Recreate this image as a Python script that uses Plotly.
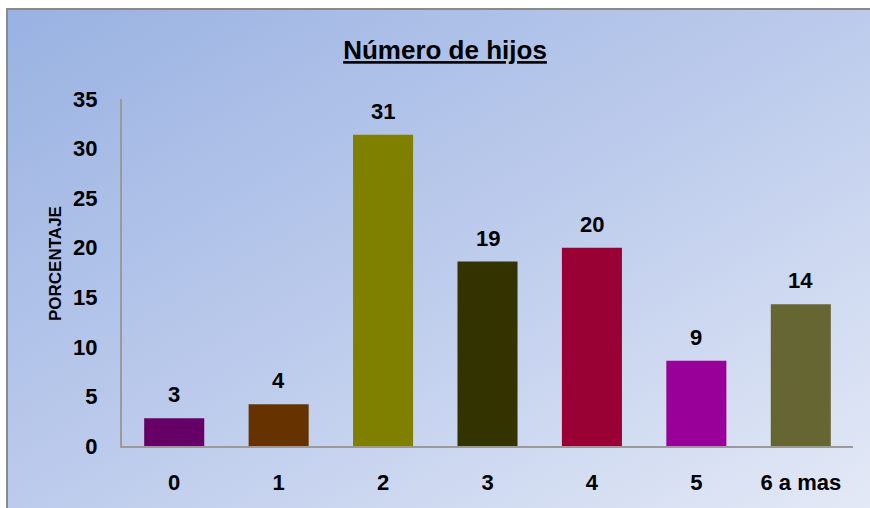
import base64
import plotly.graph_objects as go

categories = ["0", "1", "2", "3", "4", "5", "6 a mas"]
values = [2.8, 4.2, 31.4, 18.6, 20.0, 8.6, 14.3]
labels = ["3", "4", "31", "19", "20", "9", "14"]
colors = ["#660066", "#663300", "#808000", "#333300", "#990033", "#990099", "#666633"]

W, H = 870, 508
L, R, T, B = 122, 17, 99, 62
pw, ph = W - L - R, H - T - B

svg = f'''<svg xmlns="http://www.w3.org/2000/svg" width="{W}" height="{H}" viewBox="0 0 {W} {H}" preserveAspectRatio="none">
<defs><linearGradient id="g" x1="0" y1="0" x2="1" y2="1">
<stop offset="0" stop-color="#99b2e2"/><stop offset="0.5" stop-color="#bccbec"/><stop offset="1" stop-color="#e3e9f6"/>
</linearGradient></defs>
<rect x="0" y="0" width="{W}" height="{H}" fill="#ffffff"/>
<rect x="6" y="9" width="{W-6}" height="{H-9}" fill="url(#g)"/>
<line x1="6" y1="9" x2="{W}" y2="9" stroke="#8a8a8a" stroke-width="2"/>
<line x1="7" y1="9" x2="7" y2="{H}" stroke="#8a8a8a" stroke-width="2"/>
</svg>'''
src = "data:image/svg+xml;base64," + base64.b64encode(svg.encode()).decode()

FONT = "Liberation Sans Narrow, Arial Narrow, Liberation Sans, Arial, sans-serif"

fig = go.Figure()
fig.add_trace(go.Bar(x=categories, y=values, marker=dict(color=colors, line=dict(width=0)),
                     width=0.575, hoverinfo="skip"))

for c, v, t in zip(categories, values, labels):
    fig.add_annotation(x=c, y=v, text=f"<b>{t}</b>", showarrow=False, yanchor="bottom",
                       yshift=9, font=dict(family=FONT, size=22, color="#000000"))

fig.add_annotation(x=(55 - L) / pw, y=(H - B - 264) / ph, xref="paper", yref="paper",
                   text="<b>PORCENTAJE</b>", textangle=-90, showarrow=False,
                   xanchor="center", yanchor="middle",
                   font=dict(family=FONT, size=17, color="#000000"))

fig.update_layout(
    width=W, height=H,
    margin=dict(l=L, r=R, t=T, b=B, pad=0),
    paper_bgcolor="#ffffff", plot_bgcolor="#ffffff",
    showlegend=False,
    title=dict(text="<b><u>Número de hijos</u></b>", x=445 / W, xref="container", xanchor="center",
               y=1 - 50 / H, yref="container", yanchor="middle",
               font=dict(family=FONT, size=26, color="#000000")),
    images=[dict(source=src, xref="paper", yref="paper", x=-L / pw, y=1 + T / ph,
                 sizex=W / pw, sizey=H / ph, sizing="stretch", xanchor="left", yanchor="top",
                 layer="below")],
    xaxis=dict(showgrid=False, zeroline=False, showline=True, linecolor="#9a9a9a", linewidth=2,
               ticks="", ticklabelstandoff=16, tickfont=dict(family=FONT, size=22, color="#000000"),
               tickprefix="<b>", ticksuffix="</b>", fixedrange=True),
    yaxis=dict(range=[0, 35], dtick=5, showgrid=False, zeroline=False, showline=True,
               linecolor="#9a9a9a", linewidth=2, ticks="", ticklabelstandoff=18,
               tickfont=dict(family=FONT, size=22, color="#000000"),
               tickprefix="<b>", ticksuffix="</b>", fixedrange=True),
)

fig.write_html("out.html", config={"displayModeBar": False},
               post_script="document.body.style.margin='0';document.body.style.overflow='hidden';")
